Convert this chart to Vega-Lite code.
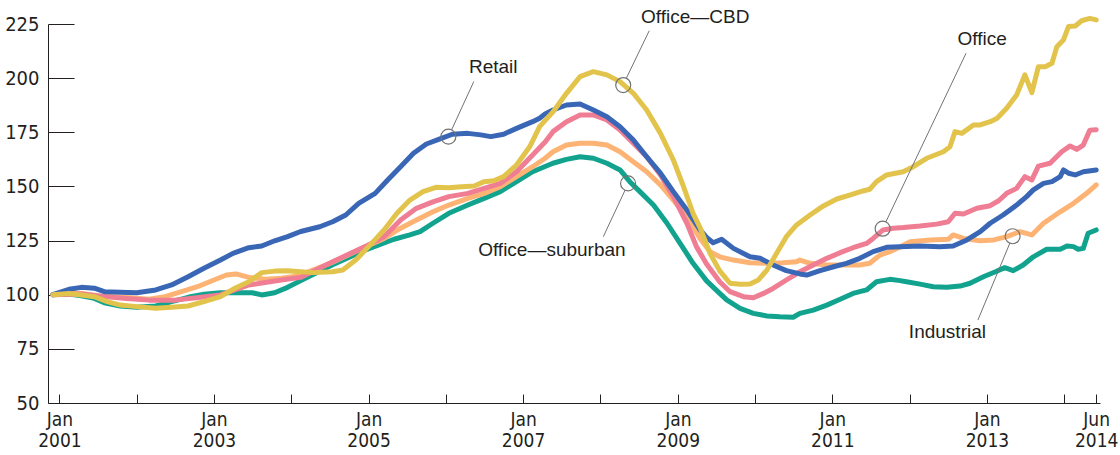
{
  "$schema": "https://vega.github.io/schema/vega-lite/v6.json",
  "width": 1052,
  "height": 379,
  "autosize": "none",
  "padding": {"left": 48, "top": 24, "right": 20, "bottom": 52},
  "background": "white",
  "config": {"view": {"stroke": null}},
  "datasets": {
    "series": [
      {"s":"Office—suburban","d":"2000-12-01","v":100},
      {"s":"Office—suburban","d":"2001-02-15","v":100.3},
      {"s":"Office—suburban","d":"2001-04-15","v":99.5},
      {"s":"Office—suburban","d":"2001-06-15","v":98.3},
      {"s":"Office—suburban","d":"2001-08-01","v":96.3},
      {"s":"Office—suburban","d":"2001-10-15","v":94.8},
      {"s":"Office—suburban","d":"2002-01-01","v":94.2},
      {"s":"Office—suburban","d":"2002-04-01","v":94.8},
      {"s":"Office—suburban","d":"2002-06-15","v":96.8},
      {"s":"Office—suburban","d":"2002-09-01","v":98.8},
      {"s":"Office—suburban","d":"2002-11-15","v":100.2},
      {"s":"Office—suburban","d":"2003-02-01","v":100.9},
      {"s":"Office—suburban","d":"2003-04-15","v":100.9},
      {"s":"Office—suburban","d":"2003-07-01","v":100.9},
      {"s":"Office—suburban","d":"2003-08-15","v":99.9},
      {"s":"Office—suburban","d":"2003-10-15","v":100.9},
      {"s":"Office—suburban","d":"2003-12-15","v":103.4},
      {"s":"Office—suburban","d":"2004-03-01","v":107.2},
      {"s":"Office—suburban","d":"2004-07-15","v":113.8},
      {"s":"Office—suburban","d":"2004-12-15","v":120.6},
      {"s":"Office—suburban","d":"2005-05-01","v":125.6},
      {"s":"Office—suburban","d":"2005-07-15","v":127.6},
      {"s":"Office—suburban","d":"2005-09-01","v":129.1},
      {"s":"Office—suburban","d":"2005-11-01","v":133.0},
      {"s":"Office—suburban","d":"2006-01-15","v":137.6},
      {"s":"Office—suburban","d":"2006-04-15","v":141.4},
      {"s":"Office—suburban","d":"2006-07-01","v":144.5},
      {"s":"Office—suburban","d":"2006-09-15","v":147.6},
      {"s":"Office—suburban","d":"2006-12-01","v":152.2},
      {"s":"Office—suburban","d":"2007-02-15","v":156.8},
      {"s":"Office—suburban","d":"2007-04-15","v":159.2},
      {"s":"Office—suburban","d":"2007-05-22","v":160.7},
      {"s":"Office—suburban","d":"2007-07-25","v":162.5},
      {"s":"Office—suburban","d":"2007-09-27","v":163.7},
      {"s":"Office—suburban","d":"2007-11-29","v":163.0},
      {"s":"Office—suburban","d":"2008-02-01","v":160.7},
      {"s":"Office—suburban","d":"2008-04-03","v":157.6},
      {"s":"Office—suburban","d":"2008-05-19","v":152.2},
      {"s":"Office—suburban","d":"2008-07-06","v":147.6},
      {"s":"Office—suburban","d":"2008-09-08","v":141.4},
      {"s":"Office—suburban","d":"2008-11-11","v":133.0},
      {"s":"Office—suburban","d":"2009-01-12","v":123.7},
      {"s":"Office—suburban","d":"2009-03-14","v":114.5},
      {"s":"Office—suburban","d":"2009-05-17","v":106.4},
      {"s":"Office—suburban","d":"2009-07-18","v":100.6},
      {"s":"Office—suburban","d":"2009-08-20","v":97.6},
      {"s":"Office—suburban","d":"2009-10-22","v":93.7},
      {"s":"Office—suburban","d":"2009-12-24","v":91.4},
      {"s":"Office—suburban","d":"2010-02-26","v":90.2},
      {"s":"Office—suburban","d":"2010-04-28","v":89.8},
      {"s":"Office—suburban","d":"2010-06-30","v":89.6},
      {"s":"Office—suburban","d":"2010-08-01","v":91.4},
      {"s":"Office—suburban","d":"2010-10-03","v":92.9},
      {"s":"Office—suburban","d":"2010-12-06","v":95.2},
      {"s":"Office—suburban","d":"2011-02-07","v":97.9},
      {"s":"Office—suburban","d":"2011-04-09","v":100.6},
      {"s":"Office—suburban","d":"2011-06-12","v":102.2},
      {"s":"Office—suburban","d":"2011-07-29","v":106.0},
      {"s":"Office—suburban","d":"2011-09-30","v":107.1},
      {"s":"Office—suburban","d":"2011-11-17","v":106.5},
      {"s":"Office—suburban","d":"2011-12-18","v":106.0},
      {"s":"Office—suburban","d":"2012-02-20","v":104.9},
      {"s":"Office—suburban","d":"2012-04-22","v":103.7},
      {"s":"Office—suburban","d":"2012-06-25","v":103.4},
      {"s":"Office—suburban","d":"2012-08-27","v":104.0},
      {"s":"Office—suburban","d":"2012-10-13","v":105.3},
      {"s":"Office—suburban","d":"2012-12-15","v":108.3},
      {"s":"Office—suburban","d":"2013-02-10","v":110.6},
      {"s":"Office—suburban","d":"2013-03-26","v":112.5},
      {"s":"Office—suburban","d":"2013-05-05","v":111.1},
      {"s":"Office—suburban","d":"2013-06-21","v":113.7},
      {"s":"Office—suburban","d":"2013-08-08","v":117.5},
      {"s":"Office—suburban","d":"2013-10-10","v":121.0},
      {"s":"Office—suburban","d":"2013-12-13","v":121.0},
      {"s":"Office—suburban","d":"2014-01-14","v":122.5},
      {"s":"Office—suburban","d":"2014-02-14","v":122.2},
      {"s":"Office—suburban","d":"2014-03-08","v":121.0},
      {"s":"Office—suburban","d":"2014-04-01","v":121.4},
      {"s":"Office—suburban","d":"2014-04-24","v":128.4},
      {"s":"Office—suburban","d":"2014-06-01","v":129.9},

      {"s":"Industrial","d":"2000-12-01","v":100},
      {"s":"Industrial","d":"2001-02-15","v":100.9},
      {"s":"Industrial","d":"2001-04-15","v":100.6},
      {"s":"Industrial","d":"2001-07-01","v":99.5},
      {"s":"Industrial","d":"2001-09-15","v":99.1},
      {"s":"Industrial","d":"2001-12-01","v":98.6},
      {"s":"Industrial","d":"2002-03-01","v":97.9},
      {"s":"Industrial","d":"2002-05-15","v":99.1},
      {"s":"Industrial","d":"2002-08-01","v":101.4},
      {"s":"Industrial","d":"2002-10-15","v":103.7},
      {"s":"Industrial","d":"2003-01-01","v":106.8},
      {"s":"Industrial","d":"2003-03-01","v":109.1},
      {"s":"Industrial","d":"2003-04-15","v":109.6},
      {"s":"Industrial","d":"2003-06-15","v":108.0},
      {"s":"Industrial","d":"2003-09-01","v":107.1},
      {"s":"Industrial","d":"2003-11-15","v":107.6},
      {"s":"Industrial","d":"2004-02-01","v":108.6},
      {"s":"Industrial","d":"2004-07-15","v":115.0},
      {"s":"Industrial","d":"2004-12-15","v":122.0},
      {"s":"Industrial","d":"2005-03-15","v":126.0},
      {"s":"Industrial","d":"2005-06-01","v":130.7},
      {"s":"Industrial","d":"2005-08-15","v":134.5},
      {"s":"Industrial","d":"2005-11-01","v":138.3},
      {"s":"Industrial","d":"2006-01-15","v":141.4},
      {"s":"Industrial","d":"2006-04-15","v":144.5},
      {"s":"Industrial","d":"2006-07-01","v":146.8},
      {"s":"Industrial","d":"2006-09-15","v":149.9},
      {"s":"Industrial","d":"2006-12-01","v":154.5},
      {"s":"Industrial","d":"2007-02-15","v":159.1},
      {"s":"Industrial","d":"2007-04-15","v":163.0},
      {"s":"Industrial","d":"2007-05-22","v":166.0},
      {"s":"Industrial","d":"2007-07-25","v":169.1},
      {"s":"Industrial","d":"2007-09-27","v":169.9},
      {"s":"Industrial","d":"2007-11-29","v":169.9},
      {"s":"Industrial","d":"2008-02-01","v":169.1},
      {"s":"Industrial","d":"2008-04-03","v":166.0},
      {"s":"Industrial","d":"2008-06-05","v":161.4},
      {"s":"Industrial","d":"2008-08-07","v":156.8},
      {"s":"Industrial","d":"2008-10-11","v":150.7},
      {"s":"Industrial","d":"2008-12-11","v":143.7},
      {"s":"Industrial","d":"2009-02-13","v":136.0},
      {"s":"Industrial","d":"2009-04-16","v":126.0},
      {"s":"Industrial","d":"2009-06-02","v":119.9},
      {"s":"Industrial","d":"2009-07-18","v":117.5},
      {"s":"Industrial","d":"2009-09-21","v":116.0},
      {"s":"Industrial","d":"2009-12-08","v":114.8},
      {"s":"Industrial","d":"2010-02-26","v":114.5},
      {"s":"Industrial","d":"2010-05-13","v":114.8},
      {"s":"Industrial","d":"2010-07-16","v":115.2},
      {"s":"Industrial","d":"2010-08-01","v":116.0},
      {"s":"Industrial","d":"2010-09-18","v":114.5},
      {"s":"Industrial","d":"2010-12-06","v":113.7},
      {"s":"Industrial","d":"2011-02-23","v":113.7},
      {"s":"Industrial","d":"2011-05-11","v":113.7},
      {"s":"Industrial","d":"2011-06-27","v":114.5},
      {"s":"Industrial","d":"2011-08-14","v":118.3},
      {"s":"Industrial","d":"2011-09-30","v":119.9},
      {"s":"Industrial","d":"2011-11-17","v":122.0},
      {"s":"Industrial","d":"2012-01-04","v":124.5},
      {"s":"Industrial","d":"2012-04-07","v":125.3},
      {"s":"Industrial","d":"2012-07-02","v":125.6},
      {"s":"Industrial","d":"2012-07-25","v":127.6},
      {"s":"Industrial","d":"2012-09-12","v":126.0},
      {"s":"Industrial","d":"2012-11-30","v":124.9},
      {"s":"Industrial","d":"2013-02-02","v":125.3},
      {"s":"Industrial","d":"2013-04-04","v":126.8},
      {"s":"Industrial","d":"2013-06-06","v":129.1},
      {"s":"Industrial","d":"2013-08-01","v":127.6},
      {"s":"Industrial","d":"2013-09-25","v":133.0},
      {"s":"Industrial","d":"2013-12-13","v":138.3},
      {"s":"Industrial","d":"2014-02-14","v":142.2},
      {"s":"Industrial","d":"2014-04-17","v":146.8},
      {"s":"Industrial","d":"2014-06-01","v":150.7},

      {"s":"Office","d":"2000-12-01","v":100},
      {"s":"Office","d":"2001-04-15","v":100.3},
      {"s":"Office","d":"2001-08-15","v":99.0},
      {"s":"Office","d":"2001-11-15","v":98.2},
      {"s":"Office","d":"2002-03-01","v":97.5},
      {"s":"Office","d":"2002-07-01","v":97.5},
      {"s":"Office","d":"2002-11-01","v":98.8},
      {"s":"Office","d":"2003-02-01","v":99.9},
      {"s":"Office","d":"2003-06-15","v":104.5},
      {"s":"Office","d":"2003-11-15","v":106.8},
      {"s":"Office","d":"2004-02-15","v":108.0},
      {"s":"Office","d":"2004-07-15","v":115.2},
      {"s":"Office","d":"2004-12-15","v":122.2},
      {"s":"Office","d":"2005-03-15","v":126.8},
      {"s":"Office","d":"2005-06-01","v":134.5},
      {"s":"Office","d":"2005-08-15","v":139.9},
      {"s":"Office","d":"2005-11-01","v":142.9},
      {"s":"Office","d":"2006-01-15","v":145.3},
      {"s":"Office","d":"2006-04-15","v":146.8},
      {"s":"Office","d":"2006-07-01","v":149.1},
      {"s":"Office","d":"2006-09-15","v":151.4},
      {"s":"Office","d":"2006-12-01","v":156.8},
      {"s":"Office","d":"2007-02-15","v":164.5},
      {"s":"Office","d":"2007-04-15","v":170.5},
      {"s":"Office","d":"2007-05-22","v":175.3},
      {"s":"Office","d":"2007-07-25","v":179.9},
      {"s":"Office","d":"2007-09-27","v":183.0},
      {"s":"Office","d":"2007-11-29","v":183.0},
      {"s":"Office","d":"2008-02-01","v":180.7},
      {"s":"Office","d":"2008-04-03","v":176.1},
      {"s":"Office","d":"2008-06-05","v":169.9},
      {"s":"Office","d":"2008-08-07","v":163.7},
      {"s":"Office","d":"2008-10-11","v":155.3},
      {"s":"Office","d":"2008-12-11","v":145.3},
      {"s":"Office","d":"2009-02-13","v":133.0},
      {"s":"Office","d":"2009-03-30","v":122.2},
      {"s":"Office","d":"2009-05-17","v":114.2},
      {"s":"Office","d":"2009-07-18","v":106.0},
      {"s":"Office","d":"2009-09-05","v":101.4},
      {"s":"Office","d":"2009-11-07","v":99.1},
      {"s":"Office","d":"2009-12-24","v":98.6},
      {"s":"Office","d":"2010-02-10","v":100.6},
      {"s":"Office","d":"2010-03-27","v":102.9},
      {"s":"Office","d":"2010-05-29","v":106.8},
      {"s":"Office","d":"2010-08-01","v":110.6},
      {"s":"Office","d":"2010-10-03","v":113.7},
      {"s":"Office","d":"2010-12-06","v":116.8},
      {"s":"Office","d":"2011-02-07","v":119.4},
      {"s":"Office","d":"2011-04-09","v":121.7},
      {"s":"Office","d":"2011-06-12","v":123.7},
      {"s":"Office","d":"2011-07-13","v":126.0},
      {"s":"Office","d":"2011-08-29","v":129.9},
      {"s":"Office","d":"2011-10-16","v":130.7},
      {"s":"Office","d":"2011-12-02","v":131.0},
      {"s":"Office","d":"2012-02-20","v":131.7},
      {"s":"Office","d":"2012-05-08","v":132.6},
      {"s":"Office","d":"2012-07-02","v":133.7},
      {"s":"Office","d":"2012-08-03","v":137.6},
      {"s":"Office","d":"2012-09-12","v":137.3},
      {"s":"Office","d":"2012-11-14","v":139.9},
      {"s":"Office","d":"2013-01-16","v":141.1},
      {"s":"Office","d":"2013-02-25","v":143.4},
      {"s":"Office","d":"2013-04-04","v":146.8},
      {"s":"Office","d":"2013-05-21","v":149.1},
      {"s":"Office","d":"2013-06-29","v":154.5},
      {"s":"Office","d":"2013-08-01","v":153.0},
      {"s":"Office","d":"2013-09-01","v":159.4},
      {"s":"Office","d":"2013-10-26","v":160.7},
      {"s":"Office","d":"2013-12-20","v":166.0},
      {"s":"Office","d":"2014-01-29","v":168.7},
      {"s":"Office","d":"2014-03-01","v":167.1},
      {"s":"Office","d":"2014-04-01","v":169.1},
      {"s":"Office","d":"2014-05-02","v":176.0},
      {"s":"Office","d":"2014-06-01","v":176.2},

      {"s":"Retail","d":"2000-12-01","v":100},
      {"s":"Retail","d":"2001-02-15","v":102.5},
      {"s":"Retail","d":"2001-04-15","v":103.4},
      {"s":"Retail","d":"2001-06-15","v":103.0},
      {"s":"Retail","d":"2001-08-01","v":101.4},
      {"s":"Retail","d":"2001-10-15","v":101.1},
      {"s":"Retail","d":"2002-01-01","v":100.9},
      {"s":"Retail","d":"2002-04-01","v":102.2},
      {"s":"Retail","d":"2002-06-15","v":104.5},
      {"s":"Retail","d":"2002-09-01","v":108.3},
      {"s":"Retail","d":"2002-11-15","v":112.2},
      {"s":"Retail","d":"2003-02-01","v":116.0},
      {"s":"Retail","d":"2003-04-01","v":119.1},
      {"s":"Retail","d":"2003-06-15","v":121.7},
      {"s":"Retail","d":"2003-08-15","v":122.5},
      {"s":"Retail","d":"2003-10-15","v":124.9},
      {"s":"Retail","d":"2003-12-15","v":126.8},
      {"s":"Retail","d":"2004-02-15","v":129.2},
      {"s":"Retail","d":"2004-05-15","v":131.4},
      {"s":"Retail","d":"2004-07-15","v":133.7},
      {"s":"Retail","d":"2004-09-15","v":136.8},
      {"s":"Retail","d":"2004-11-15","v":142.2},
      {"s":"Retail","d":"2005-02-01","v":146.8},
      {"s":"Retail","d":"2005-04-01","v":153.0},
      {"s":"Retail","d":"2005-06-01","v":159.1},
      {"s":"Retail","d":"2005-08-01","v":165.3},
      {"s":"Retail","d":"2005-10-01","v":169.6},
      {"s":"Retail","d":"2005-12-01","v":171.8},
      {"s":"Retail","d":"2006-02-01","v":174.1},
      {"s":"Retail","d":"2006-04-15","v":174.5},
      {"s":"Retail","d":"2006-06-15","v":173.8},
      {"s":"Retail","d":"2006-08-01","v":173.0},
      {"s":"Retail","d":"2006-10-01","v":174.1},
      {"s":"Retail","d":"2006-12-01","v":176.8},
      {"s":"Retail","d":"2007-02-15","v":179.9},
      {"s":"Retail","d":"2007-03-20","v":181.5},
      {"s":"Retail","d":"2007-04-15","v":183.5},
      {"s":"Retail","d":"2007-05-22","v":185.3},
      {"s":"Retail","d":"2007-07-25","v":187.6},
      {"s":"Retail","d":"2007-09-27","v":188.1},
      {"s":"Retail","d":"2007-11-29","v":185.3},
      {"s":"Retail","d":"2008-02-01","v":182.2},
      {"s":"Retail","d":"2008-04-03","v":177.6},
      {"s":"Retail","d":"2008-06-05","v":171.4},
      {"s":"Retail","d":"2008-08-07","v":163.7},
      {"s":"Retail","d":"2008-10-11","v":156.1},
      {"s":"Retail","d":"2008-12-11","v":147.6},
      {"s":"Retail","d":"2009-02-13","v":139.1},
      {"s":"Retail","d":"2009-04-16","v":130.0},
      {"s":"Retail","d":"2009-05-17","v":126.5},
      {"s":"Retail","d":"2009-06-17","v":124.0},
      {"s":"Retail","d":"2009-07-27","v":125.6},
      {"s":"Retail","d":"2009-09-21","v":121.4},
      {"s":"Retail","d":"2009-12-08","v":117.5},
      {"s":"Retail","d":"2010-01-25","v":116.8},
      {"s":"Retail","d":"2010-03-27","v":113.7},
      {"s":"Retail","d":"2010-05-29","v":111.1},
      {"s":"Retail","d":"2010-08-01","v":109.6},
      {"s":"Retail","d":"2010-09-02","v":109.1},
      {"s":"Retail","d":"2010-11-04","v":111.1},
      {"s":"Retail","d":"2011-01-07","v":112.9},
      {"s":"Retail","d":"2011-03-09","v":114.5},
      {"s":"Retail","d":"2011-05-11","v":116.8},
      {"s":"Retail","d":"2011-07-13","v":119.9},
      {"s":"Retail","d":"2011-09-15","v":121.9},
      {"s":"Retail","d":"2011-11-17","v":122.2},
      {"s":"Retail","d":"2012-02-20","v":122.5},
      {"s":"Retail","d":"2012-05-23","v":122.2},
      {"s":"Retail","d":"2012-07-25","v":122.5},
      {"s":"Retail","d":"2012-09-28","v":125.3},
      {"s":"Retail","d":"2012-11-30","v":129.1},
      {"s":"Retail","d":"2013-01-16","v":133.0},
      {"s":"Retail","d":"2013-03-18","v":136.8},
      {"s":"Retail","d":"2013-05-21","v":141.4},
      {"s":"Retail","d":"2013-07-07","v":145.3},
      {"s":"Retail","d":"2013-08-08","v":148.4},
      {"s":"Retail","d":"2013-09-25","v":151.4},
      {"s":"Retail","d":"2013-11-04","v":152.2},
      {"s":"Retail","d":"2013-12-13","v":154.5},
      {"s":"Retail","d":"2013-12-28","v":157.6},
      {"s":"Retail","d":"2014-01-21","v":156.1},
      {"s":"Retail","d":"2014-02-22","v":155.3},
      {"s":"Retail","d":"2014-04-01","v":156.8},
      {"s":"Retail","d":"2014-06-01","v":157.6},

      {"s":"Office—CBD","d":"2000-12-01","v":100},
      {"s":"Office—CBD","d":"2001-02-15","v":100.6},
      {"s":"Office—CBD","d":"2001-04-15","v":99.9},
      {"s":"Office—CBD","d":"2001-06-15","v":99.1},
      {"s":"Office—CBD","d":"2001-08-15","v":96.8},
      {"s":"Office—CBD","d":"2001-10-15","v":95.2},
      {"s":"Office—CBD","d":"2002-01-01","v":94.5},
      {"s":"Office—CBD","d":"2002-04-01","v":93.7},
      {"s":"Office—CBD","d":"2002-06-15","v":94.2},
      {"s":"Office—CBD","d":"2002-09-01","v":94.8},
      {"s":"Office—CBD","d":"2002-11-15","v":96.8},
      {"s":"Office—CBD","d":"2003-02-01","v":99.1},
      {"s":"Office—CBD","d":"2003-04-01","v":102.5},
      {"s":"Office—CBD","d":"2003-06-15","v":106.0},
      {"s":"Office—CBD","d":"2003-08-15","v":110.2},
      {"s":"Office—CBD","d":"2003-10-15","v":110.9},
      {"s":"Office—CBD","d":"2003-12-15","v":111.1},
      {"s":"Office—CBD","d":"2004-02-15","v":110.6},
      {"s":"Office—CBD","d":"2004-04-15","v":110.2},
      {"s":"Office—CBD","d":"2004-07-15","v":110.6},
      {"s":"Office—CBD","d":"2004-09-01","v":111.4},
      {"s":"Office—CBD","d":"2004-11-01","v":116.0},
      {"s":"Office—CBD","d":"2005-01-01","v":122.2},
      {"s":"Office—CBD","d":"2005-03-15","v":129.9},
      {"s":"Office—CBD","d":"2005-05-15","v":137.6},
      {"s":"Office—CBD","d":"2005-07-15","v":143.7},
      {"s":"Office—CBD","d":"2005-09-15","v":147.6},
      {"s":"Office—CBD","d":"2005-11-15","v":149.6},
      {"s":"Office—CBD","d":"2006-01-15","v":149.4},
      {"s":"Office—CBD","d":"2006-03-15","v":149.9},
      {"s":"Office—CBD","d":"2006-05-15","v":150.2},
      {"s":"Office—CBD","d":"2006-07-01","v":152.2},
      {"s":"Office—CBD","d":"2006-08-15","v":152.6},
      {"s":"Office—CBD","d":"2006-10-01","v":154.5},
      {"s":"Office—CBD","d":"2006-12-01","v":159.9},
      {"s":"Office—CBD","d":"2007-02-01","v":168.3},
      {"s":"Office—CBD","d":"2007-03-20","v":177.6},
      {"s":"Office—CBD","d":"2007-05-22","v":184.4},
      {"s":"Office—CBD","d":"2007-07-25","v":193.0},
      {"s":"Office—CBD","d":"2007-09-27","v":200.7},
      {"s":"Office—CBD","d":"2007-11-29","v":203.0},
      {"s":"Office—CBD","d":"2008-02-01","v":201.5},
      {"s":"Office—CBD","d":"2008-04-03","v":198.4},
      {"s":"Office—CBD","d":"2008-06-05","v":193.0},
      {"s":"Office—CBD","d":"2008-08-07","v":185.3},
      {"s":"Office—CBD","d":"2008-10-11","v":174.5},
      {"s":"Office—CBD","d":"2008-12-11","v":162.2},
      {"s":"Office—CBD","d":"2009-01-28","v":149.9},
      {"s":"Office—CBD","d":"2009-03-14","v":137.6},
      {"s":"Office—CBD","d":"2009-04-16","v":131.0},
      {"s":"Office—CBD","d":"2009-06-02","v":119.1},
      {"s":"Office—CBD","d":"2009-07-18","v":111.0},
      {"s":"Office—CBD","d":"2009-09-05","v":105.3},
      {"s":"Office—CBD","d":"2009-10-22","v":104.8},
      {"s":"Office—CBD","d":"2009-12-08","v":104.9},
      {"s":"Office—CBD","d":"2010-01-17","v":106.8},
      {"s":"Office—CBD","d":"2010-02-26","v":111.4},
      {"s":"Office—CBD","d":"2010-04-13","v":119.1},
      {"s":"Office—CBD","d":"2010-05-29","v":126.8},
      {"s":"Office—CBD","d":"2010-07-16","v":132.2},
      {"s":"Office—CBD","d":"2010-09-18","v":136.8},
      {"s":"Office—CBD","d":"2010-11-20","v":141.0},
      {"s":"Office—CBD","d":"2011-01-22","v":144.2},
      {"s":"Office—CBD","d":"2011-03-24","v":146.0},
      {"s":"Office—CBD","d":"2011-05-26","v":147.9},
      {"s":"Office—CBD","d":"2011-06-27","v":148.7},
      {"s":"Office—CBD","d":"2011-07-29","v":152.2},
      {"s":"Office—CBD","d":"2011-09-15","v":155.3},
      {"s":"Office—CBD","d":"2011-12-02","v":156.8},
      {"s":"Office—CBD","d":"2012-01-19","v":159.1},
      {"s":"Office—CBD","d":"2012-03-22","v":163.0},
      {"s":"Office—CBD","d":"2012-06-09","v":166.0},
      {"s":"Office—CBD","d":"2012-07-10","v":168.3},
      {"s":"Office—CBD","d":"2012-08-03","v":175.3},
      {"s":"Office—CBD","d":"2012-09-04","v":174.5},
      {"s":"Office—CBD","d":"2012-10-29","v":178.4},
      {"s":"Office—CBD","d":"2012-11-30","v":178.4},
      {"s":"Office—CBD","d":"2013-01-16","v":179.9},
      {"s":"Office—CBD","d":"2013-02-18","v":181.5},
      {"s":"Office—CBD","d":"2013-04-04","v":186.1},
      {"s":"Office—CBD","d":"2013-05-21","v":192.2},
      {"s":"Office—CBD","d":"2013-06-29","v":201.5},
      {"s":"Office—CBD","d":"2013-08-01","v":193.3},
      {"s":"Office—CBD","d":"2013-09-01","v":205.3},
      {"s":"Office—CBD","d":"2013-10-03","v":205.3},
      {"s":"Office—CBD","d":"2013-11-04","v":206.9},
      {"s":"Office—CBD","d":"2013-11-27","v":214.5},
      {"s":"Office—CBD","d":"2013-12-28","v":217.6},
      {"s":"Office—CBD","d":"2014-01-21","v":223.8},
      {"s":"Office—CBD","d":"2014-02-22","v":224.1},
      {"s":"Office—CBD","d":"2014-03-24","v":226.5},
      {"s":"Office—CBD","d":"2014-05-02","v":227.6},
      {"s":"Office—CBD","d":"2014-06-01","v":226.9}
    ],
    "labels": [
      {"label":"Retail","d":"2006-08-13","v":202.5},
      {"label":"Office—CBD","d":"2009-03-24","v":225.3},
      {"label":"Office","d":"2012-12-09","v":215.3},
      {"label":"Industrial","d":"2012-06-28","v":79.9},
      {"label":"Office—suburban","d":"2007-05-17","v":117.9}
    ],
    "circles": [
      {"label":"Retail","d":"2006-01-13","v":173.0},
      {"label":"Office—CBD","d":"2008-04-18","v":196.8},
      {"label":"Office","d":"2011-08-27","v":130.5},
      {"label":"Industrial","d":"2013-05-02","v":127.0},
      {"label":"Office—suburban","d":"2008-05-11","v":151.4}
    ],
    "leaders": [
      {"label":"Retail","d":"2006-01-28","v":176.1,"d2":"2006-05-13","v2":198.4},
      {"label":"Office—CBD","d":"2008-05-03","v":200.0,"d2":"2008-08-19","v2":221.9},
      {"label":"Office","d":"2011-09-11","v":133.6,"d2":"2012-09-24","v2":211.5},
      {"label":"Industrial","d":"2013-04-19","v":123.8,"d2":"2012-11-19","v2":88.3},
      {"label":"Office—suburban","d":"2008-04-27","v":148.3,"d2":"2008-01-15","v2":126.8}
    ]
  },
  "encoding": {
    "x": {
      "field": "d", "type": "temporal",
      "scale": {"type": "utc", "domain": [{"year": 2000, "month": 11, "date": 8, "utc": true}, {"year": 2014, "month": 6, "date": 19, "utc": true}]},
      "axis": {
        "title": null,
        "grid": false,
        "values": [
          {"year": 2001, "month": 1, "date": 1, "utc": true},
          {"year": 2002, "month": 1, "date": 1, "utc": true},
          {"year": 2003, "month": 1, "date": 1, "utc": true},
          {"year": 2004, "month": 1, "date": 1, "utc": true},
          {"year": 2005, "month": 1, "date": 1, "utc": true},
          {"year": 2006, "month": 1, "date": 1, "utc": true},
          {"year": 2007, "month": 1, "date": 1, "utc": true},
          {"year": 2008, "month": 1, "date": 1, "utc": true},
          {"year": 2009, "month": 1, "date": 1, "utc": true},
          {"year": 2010, "month": 1, "date": 1, "utc": true},
          {"year": 2011, "month": 1, "date": 1, "utc": true},
          {"year": 2012, "month": 1, "date": 1, "utc": true},
          {"year": 2013, "month": 1, "date": 1, "utc": true},
          {"year": 2014, "month": 1, "date": 1, "utc": true},
          {"year": 2014, "month": 6, "date": 1, "utc": true}
        ],
        "labelExpr": "utcmonth(datum.value) == 5 || utcyear(datum.value) % 2 == 1 ? [utcFormat(datum.value, '%b'), utcFormat(datum.value, '%Y')] : ''",
        "tickSize": -9,
        "tickColor": "#231f20",
        "domainColor": "#231f20",
        "labelPadding": 16,
        "labelFont": "Liberation Sans Narrow, DejaVu Sans Condensed, sans-serif",
        "labelFontSize": 19,
        "labelLineHeight": 21,
        "labelColor": "#231f20",
        "labelFlush": false,
        "labelOverlap": false,
        "labelBound": false
      }
    },
    "y": {
      "field": "v", "type": "quantitative",
      "scale": {"domain": [50, 225], "zero": false, "nice": false},
      "axis": {
        "title": null,
        "grid": false,
        "values": [50, 75, 100, 125, 150, 175, 200, 225],
        "tickSize": -26,
        "tickColor": "#231f20",
        "domainColor": "#231f20",
        "labelPadding": 35,
        "labelFont": "Liberation Sans Narrow, DejaVu Sans Condensed, sans-serif",
        "labelFontSize": 20,
        "labelColor": "#231f20",
        "labelOverlap": false,
        "labelBound": false,
        "labelFlush": false
      }
    }
  },
  "layer": [
    {
      "data": {"name": "series"},
      "mark": {"type": "line", "strokeWidth": 5, "strokeCap": "round", "strokeJoin": "round"},
      "encoding": {
        "color": {
          "field": "s", "type": "nominal",
          "scale": {
            "domain": ["Office—suburban", "Industrial", "Office", "Retail", "Office—CBD"],
            "range": ["#12a38f", "#fdb374", "#ef7d93", "#3a67b5", "#e2c44c"]
          },
          "legend": null
        }
      }
    },
    {
      "data": {"name": "leaders"},
      "mark": {"type": "rule", "color": "#737373", "strokeWidth": 1},
      "encoding": {
        "x2": {"field": "d2"},
        "y2": {"field": "v2"}
      }
    },
    {
      "data": {"name": "circles"},
      "mark": {"type": "point", "shape": "circle", "filled": false, "size": 225, "color": "#737373", "strokeWidth": 1.2, "opacity": 1}
    },
    {
      "data": {"name": "labels"},
      "mark": {"type": "text", "font": "Liberation Sans, Arial, sans-serif", "fontSize": 19, "color": "#231f20", "align": "center", "baseline": "alphabetic"},
      "encoding": {
        "text": {"field": "label"}
      }
    }
  ]
}
